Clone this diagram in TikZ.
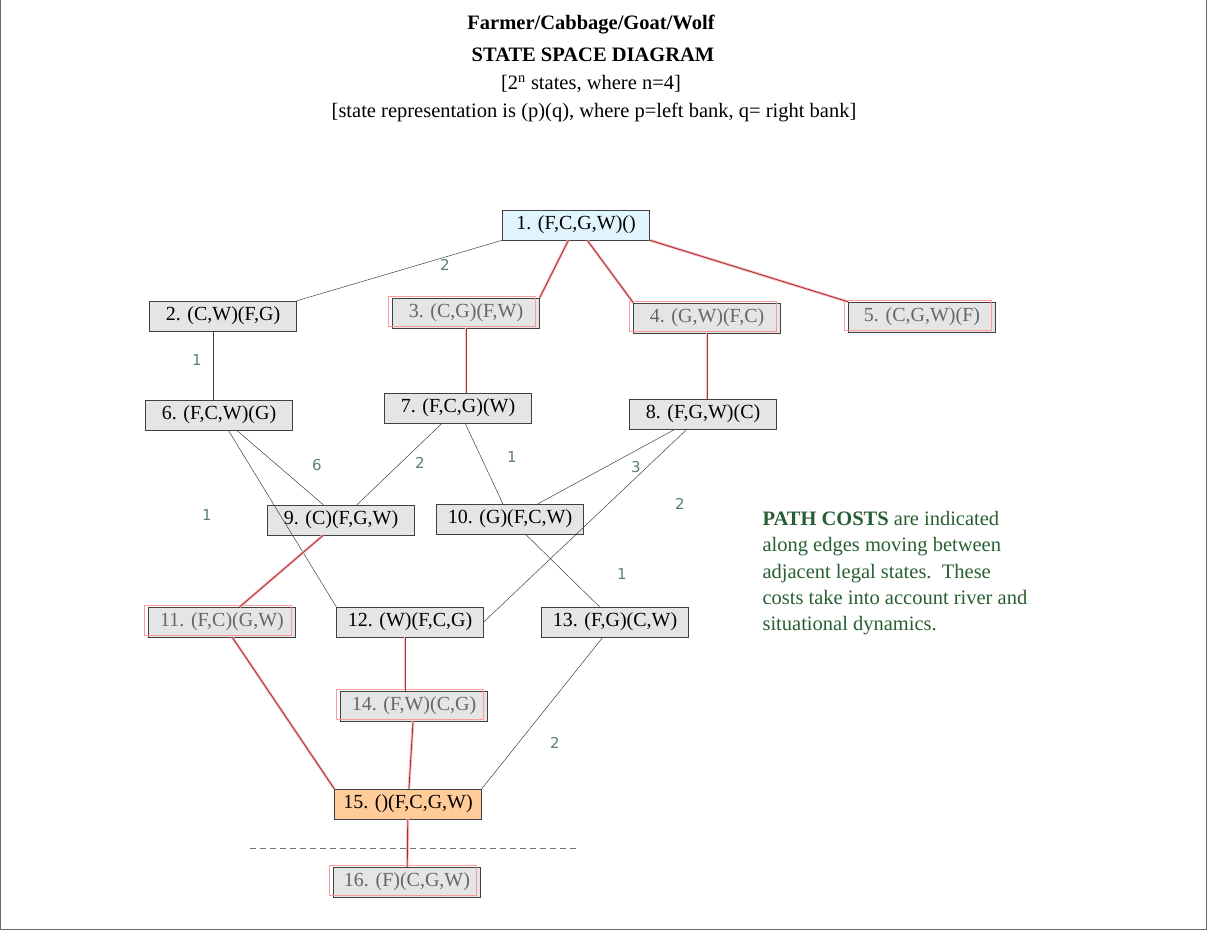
\documentclass[tikz,border=0pt]{standalone}
\usepackage{fontspec}
\setmainfont{Liberation Serif}
\newfontfamily\numfont{DejaVu Sans}
\definecolor{redln}{RGB}{160,50,60}
\definecolor{costc}{RGB}{90,130,110}
\definecolor{pcgreen}{RGB}{40,95,50}
\begin{document}
\begin{tikzpicture}[x=1pt,y=-1pt,
  st/.style={draw=black!75,fill=black!10,minimum width=147pt,minimum height=30pt,inner sep=0pt,font=\fontsize{20}{22}\selectfont},
  rst/.style={st,text=black!60,postaction={draw=red!40,line width=0.9pt,transform canvas={shift={(-4pt,2pt)}}}},
  edge/.style={draw=black!75,line width=0.5pt},
  redge/.style={draw=redln,line width=0.9pt,preaction={draw=red!25,line width=2.8pt}},
  cost/.style={text=costc,font=\numfont\fontsize{15}{17}\selectfont}]
\useasboundingbox (0,0) rectangle (1208,932);
\draw[black!60,line width=1pt] (0.5,0) -- (0.5,929.5) -- (1206.5,929.5) -- (1206.5,0);
\node[font=\bfseries\fontsize{20.5}{22}\selectfont] (t1) at (591,25) {Farmer/Cabbage/Goat/Wolf};
\node[font=\bfseries\fontsize{20.5}{22}\selectfont] (t2) at (593,55) {STATE SPACE DIAGRAM};
\node[font=\fontsize{20.5}{22}\selectfont] (t3) at (591,84) {[2\textsuperscript{n} states, where n=4]};
\node[font=\fontsize{20.5}{22}\selectfont] (t4) at (594,112) {[state representation is (p)(q), where p=left bank, q= right bank]};

\node[st,fill=cyan!12] (n1) at (576,225) {1. (F,C,G,W)()};
\node[st] (n2) at (223,316) {2. (C,W)(F,G)};
\node[rst] (n3) at (466,313) {3. (C,G)(F,W)};
\node[rst] (n4) at (707,318) {4. (G,W)(F,C)};
\node[rst] (n5) at (922,317) {5. (C,G,W)(F)};
\node[st] (n6) at (219,415) {6. (F,C,W)(G)};
\node[st] (n7) at (458,408) {7. (F,C,G)(W)};
\node[st] (n8) at (703,414) {8. (F,G,W)(C)};
\node[st] (n9) at (341,520) {9. (C)(F,G,W)};
\node[st] (n10) at (510,519) {10. (G)(F,C,W)};
\node[rst] (n11) at (222,622) {11. (F,C)(G,W)};
\node[st] (n12) at (410,622) {12. (W)(F,C,G)};
\node[st] (n13) at (615,622) {13. (F,G)(C,W)};
\node[rst] (n14) at (414,706) {14. (F,W)(C,G)};
\node[st,fill=orange!40] (n15) at (408,804) {15. ()(F,C,G,W)};
\node[rst] (n16) at (407,882) {16. (F)(C,G,W)};

\draw[edge] (n1.south west) -- (n2.north east);
\draw[redge] (n1) -- (n3.north east);
\draw[redge] (n1) -- (n4.north west);
\draw[redge] (n1.south east) -- (n5.north west);
\draw[edge] (n2.south) ++(-10,0) coordinate (a2) (a2) -- (a2 |- n6.north);
\draw[redge] (n3) -- (n3 |- n7.north);
\draw[redge] (n4) -- (n4 |- n8.north);
\draw[edge] (n6) -- (n9);
\draw[edge] (n6) -- (n12.north west);
\draw[edge] (n7) -- (n9);
\draw[edge] (n7) -- (n10);
\draw[edge] (n8) -- (n10);
\draw[edge] (n8) -- (n12.east);
\draw[edge] (n10) -- (n13);
\draw[redge] (n9) -- (n11);
\draw[redge] (n11) -- (n15.north west);
\draw[redge] (n12.south) ++(-5,0) coordinate (a12) (a12) -- (a12 |- n14.north);
\draw[redge] (n14) -- (n15);
\draw[edge] (n13) -- (n15.north east);
\draw[redge] (n15) -- (n16);
\draw[black!55,dash pattern=on 6pt off 4pt] (250,848) -- (577,848);

\node[cost] (c1) at (445,265) {2};
\node[cost] (c2) at (197,360) {1};
\node[cost] (c3) at (317,465) {6};
\node[cost] (c4) at (207,515) {1};
\node[cost] (c5) at (420,463) {2};
\node[cost] (c6) at (512,457) {1};
\node[cost] (c7) at (636,467) {3};
\node[cost] (c8) at (680,504) {2};
\node[cost] (c9) at (622,574) {1};
\node[cost] (c10) at (555,743) {2};

\node[anchor=north west,align=left,text=pcgreen,font=\fontsize{20.5}{26.2}\selectfont] (pc) at (759,508)
{\textbf{PATH COSTS} are indicated\\along edges moving between\\adjacent legal states.\ \ These\\costs take into account river and\\situational dynamics.};
\end{tikzpicture}
\end{document}
